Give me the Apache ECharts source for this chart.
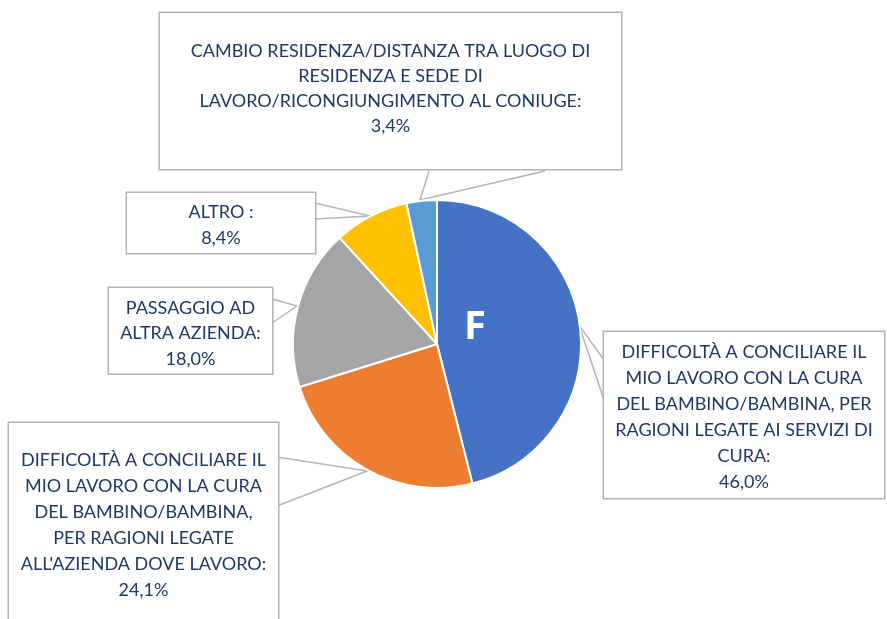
<!DOCTYPE html>
<html>
<head>
<meta charset="utf-8">
<title>F - motivi</title>
<script src="https://cdn.jsdelivr.net/npm/echarts@6/dist/echarts.min.js"></script>
<style>
  html, body { margin: 0; padding: 0; background: #fff; }
  #chart { width: 887px; height: 619px; }
</style>
</head>
<body>
<div id="chart"></div>
<script>
// categorie (con gli a capo come nel grafico originale)
var categories = [
  "DIFFICOLTÀ A CONCILIARE IL\nMIO LAVORO CON LA CURA\nDEL BAMBINO/BAMBINA, PER\nRAGIONI LEGATE AI SERVIZI DI\nCURA",
  "DIFFICOLTÀ A CONCILIARE IL\nMIO LAVORO CON LA CURA\nDEL BAMBINO/BAMBINA,\nPER RAGIONI LEGATE\nALL'AZIENDA DOVE LAVORO",
  "PASSAGGIO AD\nALTRA AZIENDA",
  "ALTRO ",
  "CAMBIO RESIDENZA/DISTANZA TRA LUOGO DI\nRESIDENZA E SEDE DI\nLAVORO/RICONGIUNGIMENTO AL CONIUGE"
];
var values = [46.0, 24.1, 18.0, 8.4, 3.4];
var colors = ["#4472C4", "#ED7D31", "#A5A5A5", "#FFC000", "#5B9BD5"];
var chartLetter = "F";

// riquadri dei callout: [left, top, width, lineHeight, padTop, padBottom]
var boxes = [
  [604, 332, 280, 26, 7, 3],
  [9, 423, 269, 26, 24, 40],
  [109, 288, 163, 25.5, 7, 2],
  [127, 193, 188, 26, 6, 2],
  [160, 13, 461, 25, 26, 30]
];
// punte dei callout: [base1, punta, base2]
var pointers = [
  [[604, 360], [579, 325], [604, 400]],
  [[277, 457], [367, 471], [277, 506]],
  [[272, 299], [297, 306], [272, 323]],
  [[315, 203], [370, 216], [315, 219]],
  [[429, 171], [420, 200], [545, 171]]
];

var chart = echarts.init(document.getElementById("chart"));

var seriesData = categories.map(function (name, i) {
  var b = boxes[i];
  return {
    name: name,
    value: values[i],
    itemStyle: { color: colors[i] },
    label: {
      width: b[2],
      lineHeight: b[3],
      padding: [b[4], 0, b[5], 0]
    }
  };
});

chart.setOption({
  animation: false,
  title: {
    text: chartLetter,
    left: 464,
    top: 308,
    padding: 0,
    textStyle: {
      color: "#fff",
      fontSize: 40,
      fontWeight: "bold",
      fontFamily: "Open Sans"
    }
  },
  series: [{
    type: "pie",
    center: [437, 344],
    radius: 144,
    startAngle: 90,
    clockwise: true,
    itemStyle: { borderColor: "#fff", borderWidth: 2 },
    label: {
      show: true,
      position: "outside",
      color: "#1F3864",
      fontFamily: "Lato",
      fontSize: 18,
      align: "center",
      overflow: "none",
      backgroundColor: "#fff",
      borderColor: "#B4B4B4",
      borderWidth: 1.5,
      formatter: function (p) {
        return p.name + ":\n" + p.value.toFixed(1).replace(".", ",") + "%";
      }
    },
    labelLine: {
      show: true,
      smooth: false,
      lineStyle: { color: "#B4B4B4", width: 1.5 }
    },
    labelLayout: function (p) {
      var b = boxes[p.dataIndex];
      return {
        x: b[0] + b[2] / 2,
        y: b[1],
        align: "center",
        verticalAlign: "top",
        labelLinePoints: pointers[p.dataIndex]
      };
    },
    data: seriesData
  }]
});
</script>
</body>
</html>
